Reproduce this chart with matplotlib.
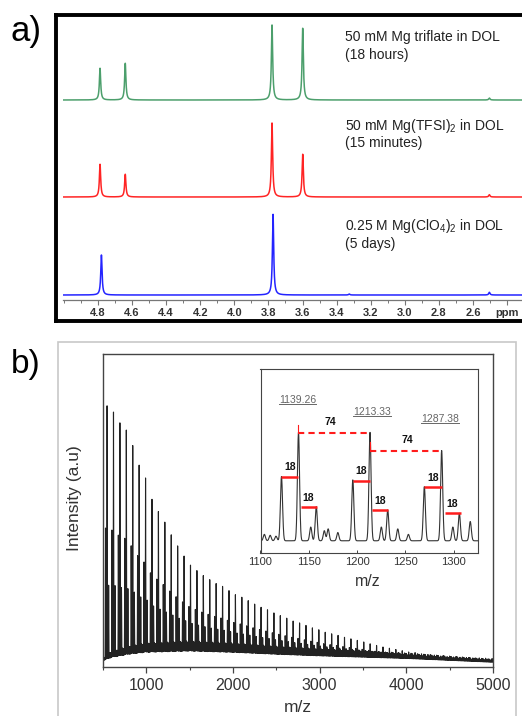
import numpy as np
import matplotlib
matplotlib.use("Agg")
import matplotlib.pyplot as plt
from matplotlib.patches import Rectangle
from matplotlib.lines import Line2D
from matplotlib.ticker import FixedLocator, FixedFormatter, MultipleLocator

plt.rcParams['font.family'] = ['Liberation Sans', 'DejaVu Sans']
plt.rcParams['mathtext.fontset'] = 'custom'
plt.rcParams['mathtext.rm'] = 'Liberation Sans'
plt.rcParams['mathtext.it'] = 'Liberation Sans:italic'
plt.rcParams['mathtext.bf'] = 'Liberation Sans:bold'

# ---------------- data: panel a (NMR) ----------------
nmr_labels = [
    ("50 mM Mg triflate in DOL", "(18 hours)"),
    ("50 mM Mg(TFSI)$_2$ in DOL", "(15 minutes)"),
    ("0.25 M Mg(ClO$_4$)$_2$ in DOL", "(5 days)"),
]
green_ppm = [4.788, 4.640, 3.779, 3.599, 2.504]
green_h = [31.7, 36.7, 75.0, 71.7, 2.0]
red_ppm = [4.788, 4.640, 3.779, 3.599, 2.504]
red_h = [32.7, 22.7, 74.0, 42.7, 2.3]
blue_ppm = [4.780, 3.773, 3.326, 2.504]
blue_h = [40.0, 80.7, 1.0, 2.7]
ppm_ticks = [4.8, 4.6, 4.4, 4.2, 4.0, 3.8, 3.6, 3.4, 3.2, 3.0, 2.8, 2.6, 2.4]
ppm_ticklabels = ['4.8', '4.6', '4.4', '4.2', '4.0', '3.8', '3.6', '3.4', '3.2',
                  '3.0', '2.8', '2.6', 'ppm']

# ---------------- data: panel b (mass spectrum) ----------------
ms_peak_mz = [546.9, 620.9, 695.0, 769.0, 843.1, 917.1, 991.1, 1065.2, 1139.3,
              1213.3, 1287.4, 1361.3, 1435.4, 1509.4, 1583.5, 1657.5, 1731.5,
              1805.6, 1879.6, 1953.7, 2027.7, 2101.7, 2175.8, 2249.8, 2323.9,
              2397.9, 2471.9, 2546.0, 2620.0, 2694.1, 2768.1, 2842.1, 2916.2,
              2990.2, 3064.3, 3138.3, 3212.3, 3286.4, 3360.4, 3434.5, 3508.5,
              3582.5, 3656.6, 3730.6, 3804.7, 3878.7, 3952.7, 4026.8, 4100.8,
              4174.9, 4248.9, 4322.9, 4397.0, 4471.0, 4545.1, 4619.1, 4693.1,
              4767.2, 4841.2, 4915.3, 4989.3]
ms_peak_top = [83.6, 81.6, 78.0, 75.7, 70.9, 64.6, 60.5, 53.6, 49.7, 46.3, 42.3,
               38.7, 35.5, 32.6, 30.8, 29.2, 27.9, 26.7, 25.8, 24.4, 23.1, 22.3,
               21.2, 20.1, 19.1, 18.3, 17.3, 16.4, 15.6, 14.7, 14.1, 13.3, 12.5,
               11.9, 11.1, 10.6, 10.1, 9.5, 9.0, 8.5, 8.0, 7.4, 6.9, 6.4, 6.0,
               5.6, 5.2, 4.8, 4.6, 4.2, 4.0, 3.8, 3.5, 3.3, 3.2, 3.1, 3.0, 2.9,
               2.9, 2.8, 2.7]
ms_base_mz = [500, 600, 800, 1000, 1500, 2000, 2500, 3000, 3500, 4000, 4500, 5000]
ms_base_val = [2.0, 3.0, 4.0, 4.6, 5.0, 4.6, 4.0, 3.5, 3.1, 2.7, 2.1, 1.5]
sat_offsets = [-18.0, 18.0]
sat_ratio = [0.52, 0.28]
minor_offsets = [-55.0, -46.0, -37.0, -28.0, -9.0, 9.0, 27.0, 37.0, 46.0]
minor_ratio = [0.30, 0.40, 0.25, 0.35, 0.45, 0.40, 0.30, 0.35, 0.25]

# inset
inset_mz = [1104, 1110, 1116, 1121.7, 1139.3, 1152, 1157.7, 1166, 1170, 1180,
            1195.5, 1213.3, 1225, 1231.6, 1242, 1253, 1269.5, 1287.4, 1299,
            1305.7, 1317]
inset_h = [0.10, 0.095, 0.09, 0.415, 0.656, 0.14, 0.251, 0.12, 0.13, 0.11,
           0.397, 0.656, 0.14, 0.233, 0.13, 0.10, 0.36, 0.557, 0.14, 0.215, 0.17]
seg18_x0 = [1121.7, 1141.5, 1195.5, 1215.5, 1269.5, 1290.5]
seg18_x1 = [1139.3, 1158.0, 1213.3, 1232.0, 1287.4, 1307.0]
seg18_y = [0.415, 0.248, 0.393, 0.233, 0.357, 0.218]
dash_x0 = [1139.3, 1213.3]
dash_x1 = [1213.3, 1287.4]
dash_y = [0.654, 0.556]
dash_label_x = [1172.5, 1251.6]
mass_labels = ["1139.26", "1213.33", "1287.38"]
mass_label_x = [1138.6, 1215.0, 1286.0]
mass_label_y = [0.83, 0.765, 0.729]

# ---------------- figure ----------------
W, H = 522, 716
fig = plt.figure(figsize=(W / 100, H / 100), dpi=100)


def fr(x0, y0, x1, y1):
    return [x0 / W, 1 - y1 / H, (x1 - x0) / W, (y1 - y0) / H]


# ===== panel a =====
ax_f = fig.add_axes(fr(56, 15, 580, 321))
ax_f.set_xticks([])
ax_f.set_yticks([])
ax_f.patch.set_alpha(0)
for s in ax_f.spines.values():
    s.set_linewidth(2.8)
    s.set_color('black')

ax_a = fig.add_axes(fr(63, 14, 560, 300))
ax_a.patch.set_alpha(0)
ax_a.set_xlim(5.0053, 2.0896)
ax_a.set_ylim(0, 286)
for k in ['top', 'left', 'right']:
    ax_a.spines[k].set_visible(False)
ax_a.spines['bottom'].set_color('#777777')
ax_a.spines['bottom'].set_linewidth(0.9)
ax_a.set_yticks([])
ax_a.xaxis.set_major_locator(FixedLocator(ppm_ticks))
ax_a.xaxis.set_major_formatter(FixedFormatter(ppm_ticklabels))
ax_a.xaxis.set_minor_locator(MultipleLocator(0.1))
ax_a.tick_params(axis='x', which='major', direction='out', length=3.5, width=0.8,
                 color='#777777', labelsize=8, pad=2.5, labelcolor='#333333')
ax_a.tick_params(axis='x', which='minor', direction='out', length=2.5, width=0.7,
                 color='#777777')
for t in ax_a.get_xticklabels():
    t.set_fontweight('bold')

ppm = np.linspace(5.0053, 2.0896, 8000)


def lorentz(x, centers, heights, g=0.0045):
    y = np.zeros_like(x)
    for c, h in zip(centers, heights):
        y += h * g ** 2 / ((x - c) ** 2 + g ** 2)
    return y


spectra = [(green_ppm, green_h, 200, '#4c9f6c'),
           (red_ppm, red_h, 103, '#ff2424'),
           (blue_ppm, blue_h, 5, '#2424ff')]
for (c, h, off, col) in spectra:
    ax_a.plot(ppm, off + lorentz(ppm, c, h), color=col, lw=1.1)

label_y = [(37, 55), (126, 143), (226, 244)]
for (l1, l2), (y1, y2) in zip(nmr_labels, label_y):
    fig.text(345 / W, 1 - y1 / H, l1, fontsize=10, color='#222222', va='center')
    fig.text(345 / W, 1 - y2 / H, l2, fontsize=10, color='#222222', va='center')

fig.text(10 / W, 1 - 32 / H, 'a)', fontsize=25, va='center', ha='left')
fig.text(11 / W, 1 - 364 / H, 'b)', fontsize=24, va='center', ha='left')

# ===== panel b =====
fig.add_artist(Rectangle((58 / W, 1 - 730 / H), (516 - 58) / W, (730 - 342) / H,
                         transform=fig.transFigure, fill=False, ec='#c8c8c8',
                         lw=1.2))

ax_b = fig.add_axes(fr(103, 354, 493, 667))
ax_b.set_xlim(500, 5000)
ax_b.set_ylim(0, 100)
ax_b.set_yticks([])
for s in ax_b.spines.values():
    s.set_color('#444444')
    s.set_linewidth(1.0)
ax_b.xaxis.set_major_locator(MultipleLocator(1000))
ax_b.xaxis.set_minor_locator(MultipleLocator(500))
ax_b.tick_params(axis='x', which='major', direction='out', length=4, width=0.9,
                 color='#444444', labelsize=11.5, pad=4, labelcolor='#333333')
ax_b.tick_params(axis='x', which='minor', direction='out', length=2.5, width=0.8,
                 color='#444444')

mz = np.arange(500, 5000.01, 0.25)
base = np.interp(mz, ms_base_mz, ms_base_val)
ms = base.copy()
sig = 1.6
for c, top in zip(ms_peak_mz, ms_peak_top):
    b0 = np.interp(c, ms_base_mz, ms_base_val)
    amp = max(top - b0, 0.3)
    ms += amp * np.exp(-0.5 * ((mz - c) / sig) ** 2)
    for o, r in zip(sat_offsets, sat_ratio):
        ms += amp * r * np.exp(-0.5 * ((mz - c - o) / sig) ** 2)
    for o, r in zip(minor_offsets, minor_ratio):
        ms += b0 * r * np.exp(-0.5 * ((mz - c - o) / sig) ** 2)
ax_b.plot(mz, ms, color='#222222', lw=0.8)

fig.text(103 / W + 0.5 * 390 / W, 1 - 707 / H, 'm/z', fontsize=12.5,
         color='#333333', ha='center', va='center')
fig.text(75 / W, 1 - 498 / H, 'Intensity (a.u)', fontsize=12.5, color='#333333',
         rotation=90, ha='center', va='center')

# ===== inset =====
ax_in = fig.add_axes(fr(260.5, 369.3, 478, 552.7))
ax_in.set_facecolor('white')
ax_in.set_xlim(1100, 1325)
ax_in.set_ylim(0, 1)
ax_in.set_yticks([])
for s in ax_in.spines.values():
    s.set_color('#444444')
    s.set_linewidth(0.8)
ax_in.xaxis.set_major_locator(MultipleLocator(50))
ax_in.tick_params(axis='x', direction='in', length=2.5, width=0.7,
                  color='#444444', labelsize=8, pad=3, labelcolor='#333333')

xi = np.arange(1100, 1325, 0.1)
yi = np.full_like(xi, 0.065)
for c, h in zip(inset_mz, inset_h):
    yi += (h - 0.065) * np.exp(-0.5 * ((xi - c) / 1.1) ** 2)
ax_in.plot(xi, yi, color='#333333', lw=0.8)

red = '#ff1c1c'
for x0, x1, y in zip(seg18_x0, seg18_x1, seg18_y):
    ax_in.plot([x0, x1], [y, y], color=red, lw=1.8, solid_capstyle='butt')
    ax_in.text((x0 + x1) / 2, y + 0.05, '18', fontsize=7.5, fontweight='bold',
               ha='center', va='center', color='#111111')
for x0, x1, y, lx in zip(dash_x0, dash_x1, dash_y, dash_label_x):
    ax_in.plot([x0, x1], [y, y], color=red, lw=1.5, ls=(0, (3, 2)))
    ax_in.plot([x0, x0], [y, y + 0.045], color=red, lw=0.8)
    ax_in.text(lx, y + 0.058, '74', fontsize=7.5, fontweight='bold',
               ha='center', va='center', color='#111111')
mass_texts = []
for t, x, y in zip(mass_labels, mass_label_x, mass_label_y):
    mass_texts.append(ax_in.text(x, y, t, fontsize=7.5, ha='center',
                                 va='center', color='#666666'))

fig.text(368 / W, 1 - 582 / H, 'm/z', fontsize=11.5, color='#333333',
         ha='center', va='center')

# underline the mass labels using their rendered extents
fig.canvas.draw()
inv = fig.transFigure.inverted()
for t in mass_texts:
    bb = t.get_window_extent()
    (fx0, fy0), (fx1, fy1) = inv.transform([(bb.x0, bb.y0 + 1), (bb.x1, bb.y0 + 1)])
    fig.add_artist(Line2D([fx0, fx1], [fy0, fy1], transform=fig.transFigure,
                          color='#666666', lw=0.7))

fig.savefig('out.png', dpi=100)
